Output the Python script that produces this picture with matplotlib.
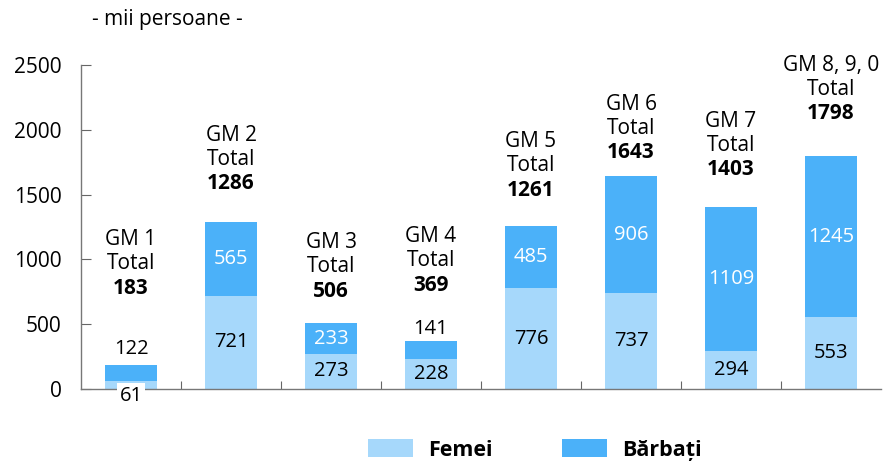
import matplotlib.pyplot as plt

groups = ["GM 1", "GM 2", "GM 3", "GM 4", "GM 5", "GM 6", "GM 7", "GM 8, 9, 0"]
femei = [61, 721, 273, 228, 776, 737, 294, 553]
barbati = [122, 565, 233, 141, 485, 906, 1109, 1245]
totals = [183, 1286, 506, 369, 1261, 1643, 1403, 1798]

# where the bold total sits (data units)
total_label_y = [779, 1582, 756, 802, 1535, 1821, 1690, 2122]

light = "#a6d8fb"
dark = "#4bb1f9"


def main():
    plt.rcParams['font.family'] = ['Open Sans', 'DejaVu Sans']
    fig = plt.figure(figsize=(8.83, 4.61), dpi=100)
    ax = fig.add_axes([81 / 883, 72 / 461, 800 / 883, 324 / 461])

    x = list(range(len(groups)))
    ax.bar(x, femei, width=0.52, color=light, label="Femei")
    ax.bar(x, barbati, width=0.52, bottom=femei, color=dark, label="Bărbați")

    ax.set_xlim(-0.5, 7.5)
    ax.set_ylim(0, 2500)
    ax.set_yticks([0, 500, 1000, 1500, 2000, 2500])
    ax.tick_params(axis='y', direction='in', length=7, labelsize=15,
                   color='#666666', pad=14)
    ax.set_xticks([i + 0.5 for i in range(7)])
    ax.set_xticklabels([])
    ax.tick_params(axis='x', direction='in', length=6, color='#666666')
    for s in ['top', 'right']:
        ax.spines[s].set_visible(False)
    for s in ['left', 'bottom']:
        ax.spines[s].set_color('#777777')
        ax.spines[s].set_linewidth(1)

    fs = 14.5
    for i in x:
        f, b = femei[i], barbati[i]
        if i == 0:
            ax.annotate(str(f), (i, 0), xytext=(0, -5), textcoords='offset points',
                        ha='center', va='center', fontsize=fs,
                        bbox=dict(facecolor='white', edgecolor='none', pad=2))
            ax.annotate(str(b), (i, f + b), xytext=(0, 12), textcoords='offset points',
                        ha='center', va='center', fontsize=fs)
        elif i == 3:
            ax.text(i, f / 2, str(f), ha='center', va='center', fontsize=fs)
            ax.annotate(str(b), (i, f + b), xytext=(0, 9), textcoords='offset points',
                        ha='center', va='center', fontsize=fs)
        else:
            ax.text(i, f / 2, str(f), ha='center', va='center', fontsize=fs)
            ax.text(i, f + b / 2, str(b), ha='center', va='center', fontsize=fs,
                    color='white')

        y = total_label_y[i]
        ax.text(i, y, str(totals[i]), ha='center', va='center', fontsize=15,
                fontweight='bold')
        ax.annotate("Total", (i, y), xytext=(0, 17.5), textcoords='offset points',
                    ha='center', va='center', fontsize=15)
        ax.annotate(groups[i], (i, y), xytext=(0, 35), textcoords='offset points',
                    ha='center', va='center', fontsize=15)

    fig.text(167 / 883, 1 - 20 / 461, "- mii persoane -", ha='center', va='center',
             fontsize=15)

    fig.legend(loc='center', bbox_to_anchor=(535 / 883, 1 - 450 / 461), ncol=2,
               frameon=False, prop={'weight': 'bold', 'size': 15.5},
               handlelength=2.1, handleheight=0.85, columnspacing=3.2,
               handletextpad=0.7)

    fig.savefig('out.png', dpi=100)


if __name__ == '__main__':
    main()
